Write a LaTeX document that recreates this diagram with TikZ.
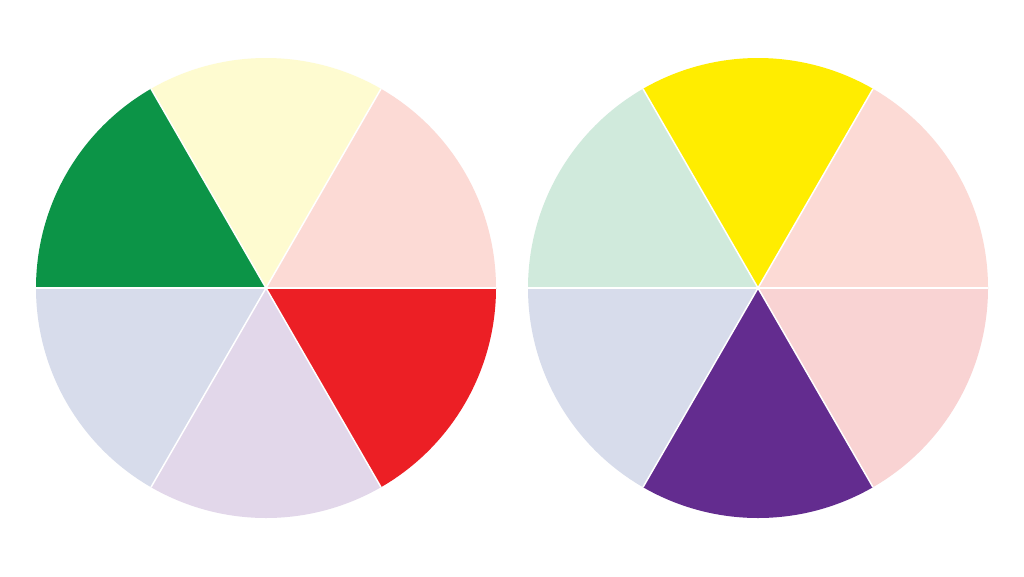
\documentclass[tikz,border=0pt]{standalone}
\begin{document}
\begin{tikzpicture}[x=1pt,y=-1pt,
  sector/.style={draw=white,line width=1.5pt,line join=round}]
\definecolor{lpink}{HTML}{FCDAD5}
\definecolor{lyellow}{HTML}{FEFBD0}
\definecolor{wgreen}{HTML}{0C9447}
\definecolor{lblue}{HTML}{D7DCEB}
\definecolor{llav}{HTML}{E2D7EA}
\definecolor{wred}{HTML}{EC1F25}
\definecolor{wyellow}{HTML}{FFED00}
\definecolor{lgreen}{HTML}{D0EADC}
\definecolor{wpurple}{HTML}{632C8F}
\definecolor{lpink2}{HTML}{F9D3D3}
\useasboundingbox[fill=white] (0,0) rectangle (1024,576);
% left wheel, center (266,288), r=230 ; angles measured with y downward -> use negative
\foreach \a/\c in {0/lpink,60/lyellow,120/wgreen,180/lblue,240/llav,300/wred}{
  \fill[\c] (266,288) -- ++(-\a:230) arc[start angle=-\a,end angle=-\a-60,radius=230] -- cycle;
}
\foreach \a in {0,60,...,300}{\draw[white,line width=1.5pt] (266,288) -- ++(-\a:230);}
\foreach \a/\c in {0/lpink,60/wyellow,120/lgreen,180/lblue,240/wpurple,300/lpink2}{
  \fill[\c] (758,288) -- ++(-\a:230) arc[start angle=-\a,end angle=-\a-60,radius=230] -- cycle;
}
\foreach \a in {0,60,...,300}{\draw[white,line width=1.5pt] (758,288) -- ++(-\a:230);}
\end{tikzpicture}
\end{document}
